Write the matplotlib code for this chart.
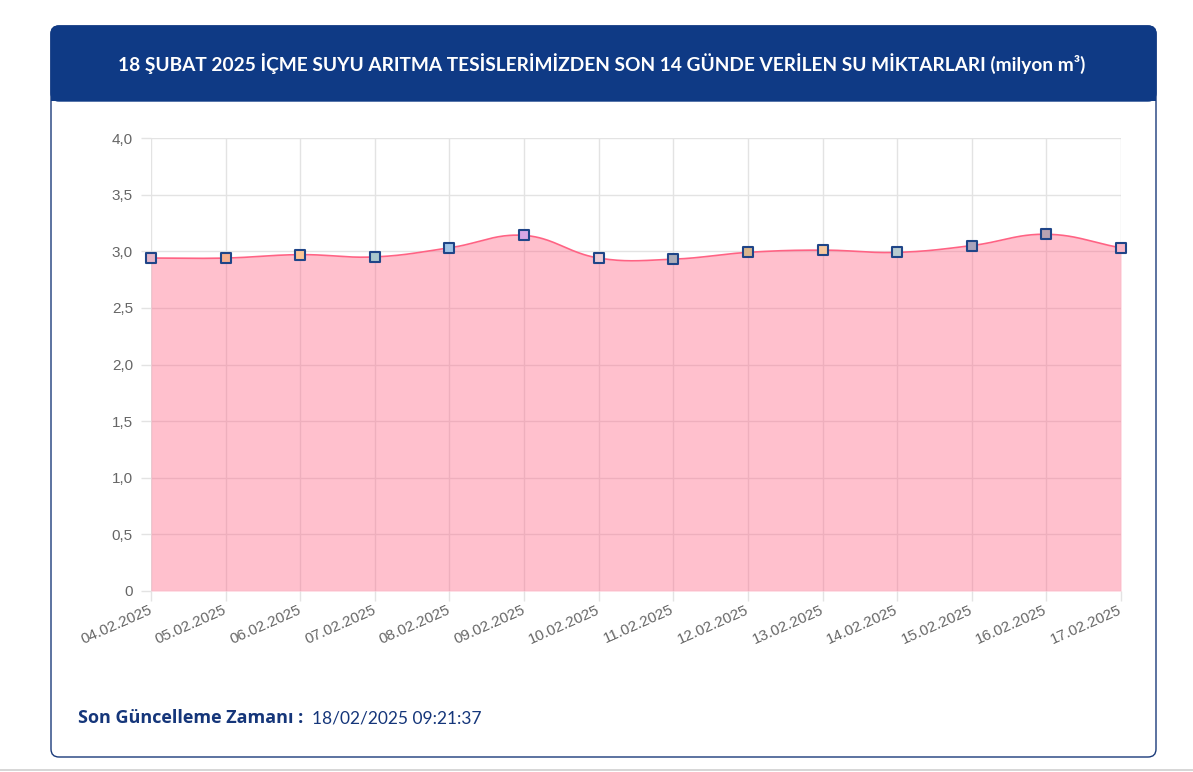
import numpy as np
import matplotlib
matplotlib.use("Agg")
import matplotlib.pyplot as plt
from matplotlib.patches import FancyBboxPatch, Rectangle
from matplotlib.markers import MarkerStyle
from matplotlib.lines import Line2D

dates = ["04.02.2025", "05.02.2025", "06.02.2025", "07.02.2025", "08.02.2025",
         "09.02.2025", "10.02.2025", "11.02.2025", "12.02.2025", "13.02.2025",
         "14.02.2025", "15.02.2025", "16.02.2025", "17.02.2025"]
values = [2.94, 2.94, 2.97, 2.95, 3.03, 3.14, 2.94, 2.93, 2.99, 3.01, 2.99, 3.05, 3.15, 3.03]
point_colors = ["#e6b6c8", "#f7b08f", "#fcc596", "#a9c6cc", "#a0c4e6", "#d7a6e4", "#ecccd6",
                "#acacb8", "#d8b68e", "#f6c8a0", "#b8cbd0", "#a8a2bb", "#b8a2b2", "#f8b8c8"]
y_ticks = [0, 0.5, 1.0, 1.5, 2.0, 2.5, 3.0, 3.5, 4.0]
y_labels = ["0", "0,5", "1,0", "1,5", "2,0", "2,5", "3,0", "3,5", "4,0"]
title = "18 ŞUBAT 2025 İÇME SUYU ARITMA TESİSLERİMİZDEN SON 14 GÜNDE VERİLEN SU MİKTARLARI (milyon m³)"
footer_bold = "Son Güncelleme Zamanı :"
footer_val = "18/02/2025 09:21:37"

NAVY = "#0f3a85"
W, H = 1193, 772
fig = plt.figure(figsize=(W / 100, H / 100), dpi=100)
T = fig.dpi_scale_trans

def px(x, y):
    return x / 100, (H - y) / 100

# card
x0, y0 = px(51, 757)
card = FancyBboxPatch((x0, y0), (1156 - 51) / 100, (757 - 26) / 100,
                      boxstyle="round,pad=0,rounding_size=0.08", fc="white",
                      ec="#1a3a7a", lw=1.0, transform=T, zorder=0)
fig.add_artist(card)
hx, hy = px(51, 101)
head = FancyBboxPatch((hx, hy), (1156 - 51) / 100, (101 - 26) / 100,
                      boxstyle="round,pad=0,rounding_size=0.08", fc=NAVY,
                      ec=NAVY, lw=1.0, transform=T, zorder=1)
fig.add_artist(head)
fig.add_artist(Rectangle((hx, hy), (1156 - 51) / 100, 0.2, fc=NAVY, ec="none",
                         transform=T, zorder=1))
fig.add_artist(Line2D([0, W / 100], [(H - 770) / 100] * 2, color="#cfcfcf", lw=1.2,
                      transform=T))

fig.text(*px(602, 64), title, color="white", fontsize=13.8, fontweight="bold",
         family=["Lato", "DejaVu Sans"], ha="center", va="center", transform=T)
fig.text(*px(78, 718), footer_bold, color="#15367a", fontsize=13, fontweight="bold",
         family=["Open Sans", "DejaVu Sans"], ha="left", va="center", transform=T)
fig.text(*px(312, 718), footer_val, color="#15367a", fontsize=12.5,
         family=["Lato", "DejaVu Sans"], ha="left", va="center", transform=T)

# axes
L, R, TOP, BOT = 151, 1121, 138, 591
ax = fig.add_axes([L / W, 1 - BOT / H, (R - L) / W, (BOT - TOP) / H])
n = len(values)
xs = np.arange(n)
ax.set_xlim(0, n - 1)
ax.set_ylim(0, 4)

# chart.js style spline (tension 0.4) computed in pixel space
sx = (R - L) / (n - 1)
sy = (BOT - TOP) / 4.0
P = np.column_stack([xs * sx, np.array(values) * sy])
t = 0.4
cps = []
for i in range(n):
    p0 = P[i - 1] if i > 0 else P[i]
    p1 = P[i]
    p2 = P[i + 1] if i < n - 1 else P[i]
    d01 = np.hypot(*(p1 - p0))
    d12 = np.hypot(*(p2 - p1))
    s01 = d01 / (d01 + d12) if d01 + d12 else 0
    s12 = d12 / (d01 + d12) if d01 + d12 else 0
    fa, fb = t * s01, t * s12
    prev_cp = p1 - fa * (p2 - p0)
    next_cp = p1 + fb * (p2 - p0)
    cps.append((prev_cp, next_cp))
curve = []
tt = np.linspace(0, 1, 40)[:, None]
for i in range(n - 1):
    a, b = P[i], cps[i][1]
    c, d = cps[i + 1][0], P[i + 1]
    seg = (1 - tt) ** 3 * a + 3 * (1 - tt) ** 2 * tt * b + 3 * (1 - tt) * tt ** 2 * c + tt ** 3 * d
    curve.append(seg if i == 0 else seg[1:])
curve = np.vstack(curve)
cx, cy = curve[:, 0] / sx, curve[:, 1] / sy

ax.fill_between(cx, 0, cy, color="#ff6384", alpha=0.4, lw=0, zorder=2)
ax.plot(cx, cy, color="#ff6384", lw=1.2, zorder=3)
mstyle = MarkerStyle("s", joinstyle="round")
for xi, v, c in zip(xs, values, point_colors):
    ax.plot([xi], [v], marker=mstyle, ms=7.5, mfc=c, mec="#1f4588", mew=1.5,
            ls="none", zorder=4, clip_on=False)

ax.set_xticks(xs)
ax.set_xticklabels(dates, rotation=24, ha="right", va="center", rotation_mode="anchor",
                   fontsize=11, color="#666666", family="Liberation Sans")
ax.set_yticks(y_ticks)
ax.set_yticklabels(y_labels, fontsize=11, color="#666666", family="Liberation Sans")
ax.tick_params(axis="both", length=7, width=1, color="#e3e3e3")
ax.tick_params(axis="x", pad=6)
ax.tick_params(axis="y", pad=6)
ax.grid(True, color="#e3e3e3", lw=1, zorder=0)
ax.set_axisbelow(True)
for s in ax.spines.values():
    s.set_visible(False)

fig.savefig("out.png", dpi=100)
